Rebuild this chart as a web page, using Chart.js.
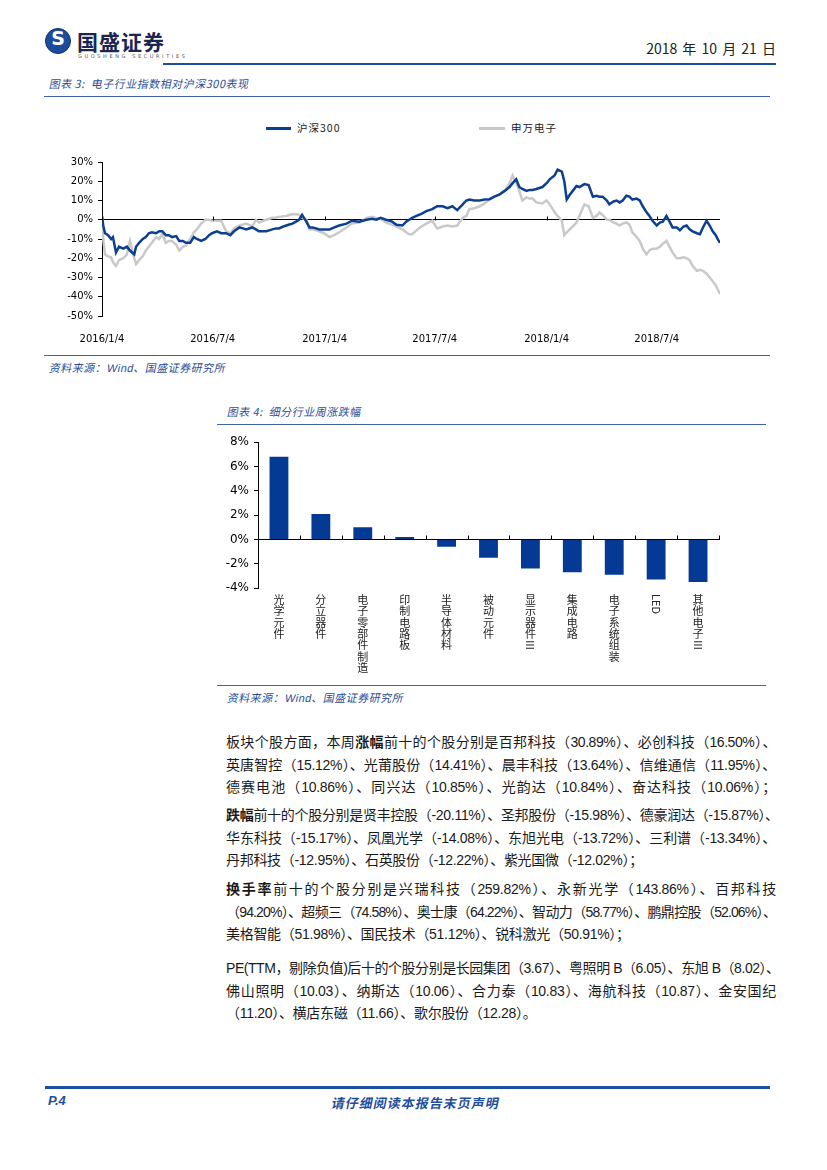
<!DOCTYPE html>
<html>
<head>
<meta charset="utf-8">
<script src="https://cdn.jsdelivr.net/npm/chart.js@4.4.1/dist/chart.umd.min.js"></script>
<style>
body { margin: 0; background: #fff; }
#page { position: relative; width: 827px; height: 1170px; overflow: hidden; font-family: "Noto Sans CJK SC", sans-serif; color: #1a1a1a; }
.abs { position: absolute; }
.cap { font-size: 11px; color: #2b4f95; white-space: nowrap; letter-spacing: 0.5px; transform: skewX(-12deg); transform-origin: left bottom; }
.rule { position: absolute; height: 0; border-top: 1.5px solid #3f63a6; }
.para { position: absolute; left: 226px; width: 550px; font-family: "Liberation Sans", "Noto Sans CJK SC", sans-serif; font-size: 14px; letter-spacing: -0.3px; }
.ln { height: 22.5px; line-height: 22.5px; white-space: nowrap; text-align: justify; text-align-last: justify; }
.ln.end { text-align-last: left; }
.ln.tight { letter-spacing: -0.9px; }
.ln.snug { letter-spacing: -0.45px; }
.ln b { font-weight: 700; }
.legend { font-family: "Noto Sans CJK SC", sans-serif; font-size: 10.5px; color: #222; letter-spacing: 1px; white-space: nowrap; }
.swatch { position: absolute; height: 3px; }
</style>
</head>
<body>
<div id="page">

  <!-- header -->
  <div class="abs" style="left:45px;top:28px;width:24px;height:24px;border-radius:50%;background:#1d4c9c;border:1px solid #0d2f6b;"></div>
  <div class="abs" style="left:45px;top:27px;width:26px;text-align:center;font:bold 19px 'DejaVu Sans';color:#fff;">S</div>
  <div class="abs" style="left:77px;top:26px;font-size:21px;font-weight:700;color:#1b2550;letter-spacing:1px;">国盛证券</div>
  <div class="abs" style="left:78px;top:53px;font:5px 'DejaVu Sans';color:#555;letter-spacing:2.6px;">GUOSHENG SECURITIES</div>
  <div class="abs" style="right:51px;top:38px;font-size:14px;color:#222;white-space:nowrap;word-spacing:2px;">2018 年 10 月 21 日</div>
  <div class="abs" style="left:163px;top:63px;width:613px;height:2px;background:#1f4e9c;"></div>

  <!-- figure 3 -->
  <div class="abs cap" style="left:48px;top:75px;">图表 3:&nbsp; 电子行业指数相对沪深300表现</div>
  <div class="rule" style="left:44px;top:96px;width:726px;"></div>

  <div class="swatch" style="left:266px;top:127px;width:25px;background:#0d3f91;"></div>
  <div class="abs legend" style="left:297px;top:120px;">沪深300</div>
  <div class="swatch" style="left:479px;top:127px;width:26px;background:#c9c9c9;"></div>
  <div class="abs legend" style="left:511px;top:120px;">申万电子</div>

  <canvas id="lineChart" class="abs" style="left:40px;top:140px;" width="740" height="212"></canvas>

  <div class="rule" style="left:44px;top:355px;width:726px;"></div>
  <div class="abs cap" style="left:48px;top:359px;">资料来源：<span style="font-family:'Liberation Sans';">Wind</span>、国盛证券研究所</div>

  <!-- figure 4 -->
  <div class="abs cap" style="left:226px;top:403px;">图表 4:&nbsp; 细分行业周涨跌幅</div>
  <div class="rule" style="left:217px;top:424px;width:549px;"></div>

  <canvas id="barChart" class="abs" style="left:200px;top:430px;" width="560" height="250"></canvas>

  <div class="rule" style="left:217px;top:685px;width:549px;"></div>
  <div class="abs cap" style="left:226px;top:689px;">资料来源：<span style="font-family:'Liberation Sans';">Wind</span>、国盛证券研究所</div>

  <!-- body text -->
  <div class="para" style="top:731px;">
    <div class="ln snug">板块个股方面，本周<b>涨幅</b>前十的个股分别是百邦科技（30.89%）、必创科技（16.50%）、</div>
    <div class="ln">英唐智控（15.12%）、光莆股份（14.41%）、晨丰科技（13.64%）、信维通信（11.95%）、</div>
    <div class="ln">德赛电池（10.86%）、同兴达（10.85%）、光韵达（10.84%）、奋达科技（10.06%）；</div>
  </div>
  <div class="para" style="top:804px;">
    <div class="ln"><b>跌幅</b>前十的个股分别是贤丰控股（-20.11%）、圣邦股份（-15.98%）、德豪润达（-15.87%）、</div>
    <div class="ln">华东科技（-15.17%）、凤凰光学（-14.08%）、东旭光电（-13.72%）、三利谱（-13.34%）、</div>
    <div class="ln end">丹邦科技（-12.95%）、石英股份（-12.22%）、紫光国微（-12.02%）；</div>
  </div>
  <div class="para" style="top:878px;">
    <div class="ln"><b>换手率</b>前十的个股分别是兴瑞科技（259.82%）、永新光学（143.86%）、百邦科技</div>
    <div class="ln tight">（94.20%）、超频三（74.58%）、奥士康（64.22%）、智动力（58.77%）、鹏鼎控股（52.06%）、</div>
    <div class="ln end">美格智能（51.98%）、国民技术（51.12%）、锐科激光（50.91%）；</div>
  </div>
  <div class="para" style="top:957px;">
    <div class="ln snug">PE(TTM，剔除负值)后十的个股分别是长园集团（3.67）、粤照明 B（6.05）、东旭 B（8.02）、</div>
    <div class="ln">佛山照明（10.03）、纳斯达（10.06）、合力泰（10.83）、海航科技（10.87）、金安国纪</div>
    <div class="ln end">（11.20）、横店东磁（11.66）、歌尔股份（12.28）。</div>
  </div>

  <!-- footer -->
  <div class="abs" style="left:45px;top:1086px;width:725px;height:3px;background:#1f4e9c;"></div>
  <div class="abs" style="left:48px;top:1093px;font:italic bold 13px 'Liberation Sans';color:#1f4e9c;">P.4</div>
  <div class="abs" style="left:330px;top:1093px;font-size:13px;font-weight:700;color:#1f4e9c;white-space:nowrap;letter-spacing:1px;transform:skewX(-12deg);transform-origin:left bottom;">请仔细阅读本报告末页声明</div>
</div>

<script>
// ---- figure 3 data : relative performance since 2016/1/4 (%) ----
// x = calendar days after 2016/1/4
const tickDays = [0, 182, 366, 547, 731, 912];
const tickLabels = ['2016/1/4', '2016/7/4', '2017/1/4', '2017/7/4', '2018/1/4', '2018/7/4'];

const days = [0,2,5,10,15,18,23,28,35,41,46,53,56,61,67,72,77,82,89,94,99,105,110,115,122,127,133,138,145,151,156,163,170,176,181,189,196,204,211,217,226,232,237,247,253,258,265,270,275,280,286,291,298,303,308,313,319,324,329,332,336,341,346,352,357,365,374,382,390,402,411,423,435,444,451,458,467,477,484,494,500,505,510,517,525,533,543,551,560,568,576,584,593,599,604,612,621,629,637,645,653,662,670,675,681,686,691,698,703,708,714,724,731,736,744,749,756,760,764,769,774,780,785,793,800,807,813,818,823,830,834,841,846,851,856,862,867,872,879,884,889,895,900,905,912,917,922,928,933,938,945,950,956,961,966,971,978,983,988,994,999,1004,1009,1012,1016];

const hs300 = [2,-3,-7,-8,-10,-9,-17,-14,-15,-14,-16,-18,-14,-12,-10,-9,-7,-6.5,-7,-6,-6,-8,-8,-9,-8.5,-11,-11,-12,-12,-9,-10,-11,-10,-8,-7,-6,-7,-7,-8,-6,-4,-4.5,-5,-4,-5,-6,-6,-6,-5.5,-5,-4.5,-4.5,-3.5,-3,-2.5,-2,-1,0,2.5,1,-1,-4,-4,-4.5,-5,-5,-5,-4,-3,-2,-0.5,-1,0,0.5,0,1,0,-1,-2.6,-3,-1,0,1,2,3,4.5,5.5,7,7,6,7,5,8,10,10.5,10,10,10.5,10.7,12,13,15,17,19,21,17,16,15,15.5,15.5,16,17,19,21,23,26,25,20,10.5,13,15,17.5,17,18.5,18,12,12.5,12,12,10,8,9.5,10,9,10,12.5,12,10.5,11,10,7,4,2,-0.5,-3,-1.5,-1,2,-1,-4,-4,-5.5,-3.5,-3,-5,-6,-7,-7.5,-4,-0.5,-3,-6,-8,-10,-12];

const swElec = [2,-10,-18,-19,-19.5,-22,-24,-21,-20,-18,-11,-20,-23,-21,-19,-16,-14,-12,-9,-10,-7.5,-12,-11,-11,-13,-16,-14,-13.5,-10,-6.5,-5,-2,0,0,-0.5,-0.5,-0.5,-6,-7,-4.5,-3,-2.5,-2,-3.5,0,-1.5,-0.5,0,0.5,1,1.2,1.5,1.8,2,2.5,3,2.8,2.6,1,0.5,0,-5,-5,-5.5,-6,-7,-9,-8,-6.5,-4,-2,-1.4,1,1.5,0.8,0.5,-1.5,-2.5,-3.5,-5,-6.5,-7.5,-7.5,-5.5,-3.5,-2,-0.5,-4.5,-3.5,-3,-3.5,-3,1,2,5.5,6,7,8.5,10.5,12,13,15,19,23,19,15,10,11.6,11,11,9,8.5,10,8,4,2,-0.5,-8,-6.5,-5,-3.5,-1.4,2,8,7,1,2,3.8,2.5,0,0,-1.5,-2,-3,-2,-1.4,-2.5,-6.6,-9,-11,-15,-18,-16,-15,-15,-14,-12.5,-11,-14,-17,-20,-20,-19.5,-20,-21,-24,-26.5,-26,-26.5,-28,-30,-32,-34,-36,-38.6];

// ---- figure 4 data : weekly change by sub-sector (%) ----
const sectorNames = ['光学元件', '分立器件', '电子零部件制造', '印制电路板', '半导体材料', '被动元件', '显示器件Ⅲ', '集成电路', '电子系统组装', 'LED', '其他电子Ⅲ'];
const weeklyChange = [6.8, 2.1, 1.0, 0.2, -0.6, -1.5, -2.4, -2.7, -2.9, -3.3, -3.5];

const BLUE = '#0d3f91';
const GRAY = '#c9c9c9';
const axisFont = { family: 'DejaVu Sans', size: 10 };

// small up-ticks on the zero line at each date label
const zeroTicks = {
    id: 'zeroTicks',
    afterDatasetsDraw(chart) {
        const { ctx, scales: { x, y } } = chart;
        const y0 = Math.round(y.getPixelForValue(0)) + 0.5;
        ctx.save();
        ctx.strokeStyle = '#000';
        ctx.lineWidth = 1;
        tickDays.forEach(d => {
            const px = Math.round(x.getPixelForValue(d)) + 0.5;
            ctx.beginPath();
            ctx.moveTo(px, y0);
            ctx.lineTo(px, y0 - 4);
            ctx.stroke();
        });
        ctx.restore();
    }
};

new Chart(document.getElementById('lineChart'), {
    type: 'line',
    data: {
        datasets: [
            {
                label: '沪深300',
                data: days.map((d, i) => ({ x: d, y: hs300[i] })),
                borderColor: BLUE,
                borderWidth: 2.5,
                pointRadius: 0,
                tension: 0
            },
            {
                label: '申万电子',
                data: days.map((d, i) => ({ x: d, y: swElec[i] })),
                borderColor: GRAY,
                borderWidth: 2.5,
                pointRadius: 0,
                tension: 0
            }
        ]
    },
    options: {
        responsive: false,
        animation: false,
        layout: { padding: { left: 0, right: 60, top: 22, bottom: 0 } },
        plugins: { legend: { display: false }, tooltip: { enabled: false } },
        scales: {
            x: {
                type: 'linear',
                min: 0,
                max: 1016,
                grid: { display: false },
                border: { display: false },
                afterBuildTicks: s => { s.ticks = tickDays.map(v => ({ value: v })); },
                afterFit: s => { s.height = 36; },
                ticks: {
                    autoSkip: false,
                    maxRotation: 0,
                    padding: 9,
                    color: '#000',
                    font: axisFont,
                    callback: v => tickLabels[tickDays.indexOf(v)]
                }
            },
            y: {
                min: -50,
                max: 30,
                afterFit: s => { s.width = 62; },
                ticks: { stepSize: 10, padding: 5, color: '#000', font: axisFont, callback: v => v + '%' },
                grid: {
                    color: c => (c.tick && c.tick.value === 0) ? '#000' : 'rgba(0,0,0,0)',
                    tickColor: '#000',
                    tickLength: 4,
                    lineWidth: 1
                },
                border: { color: '#000' }
            }
        }
    },
    plugins: [zeroTicks]
});

// vertical (stacked) category labels + up-ticks on the zero line
const barExtras = {
    id: 'barExtras',
    afterDraw(chart) {
        const { ctx, chartArea, scales: { x, y } } = chart;
        const y0 = Math.round(y.getPixelForValue(0)) + 0.5;
        const w = (x.right - x.left) / sectorNames.length;
        ctx.save();
        ctx.strokeStyle = '#000';
        ctx.lineWidth = 1;
        for (let k = 1; k <= sectorNames.length; k++) {
            const px = Math.round(x.left + k * w) + 0.5;
            ctx.beginPath();
            ctx.moveTo(px, y0);
            ctx.lineTo(px, y0 - 4);
            ctx.stroke();
        }
        ctx.fillStyle = '#222';
        ctx.font = '11px "Noto Sans CJK SC"';
        sectorNames.forEach((name, i) => {
            const cx = x.getPixelForValue(i);
            let cy = chartArea.bottom + 6;
            name.match(/[A-Za-z]+|./g).forEach(t => {
                if (/^[A-Za-z]+$/.test(t) || t === 'Ⅲ') {
                    const tw = ctx.measureText(t).width;
                    ctx.save();
                    ctx.translate(cx, cy);
                    ctx.rotate(Math.PI / 2);
                    ctx.textAlign = 'left';
                    ctx.textBaseline = 'middle';
                    ctx.fillText(t, 0, 0);
                    ctx.restore();
                    cy += tw + 2;
                } else {
                    ctx.textAlign = 'center';
                    ctx.textBaseline = 'middle';
                    ctx.fillText(t, cx, cy + 5.7);
                    cy += 11.4;
                }
            });
        });
        ctx.restore();
    }
};

new Chart(document.getElementById('barChart'), {
    type: 'bar',
    data: {
        labels: sectorNames,
        datasets: [{
            data: weeklyChange,
            backgroundColor: '#053a94',
            barPercentage: 0.45,
            categoryPercentage: 1.0
        }]
    },
    options: {
        responsive: false,
        animation: false,
        layout: { padding: { left: 0, right: 41, top: 12, bottom: 92 } },
        plugins: { legend: { display: false }, tooltip: { enabled: false } },
        scales: {
            x: {
                position: { y: 0 },
                grid: { display: false },
                ticks: { display: false },
                border: { color: '#000' }
            },
            y: {
                min: -4,
                max: 8,
                afterFit: s => { s.width = 58; },
                ticks: { stepSize: 2, padding: 5, color: '#000', font: { family: 'DejaVu Sans', size: 12 }, callback: v => v + '%' },
                grid: { drawOnChartArea: false, tickColor: '#000', tickLength: 4 },
                border: { color: '#000' }
            }
        }
    },
    plugins: [barExtras]
});
</script>
</body>
</html>
